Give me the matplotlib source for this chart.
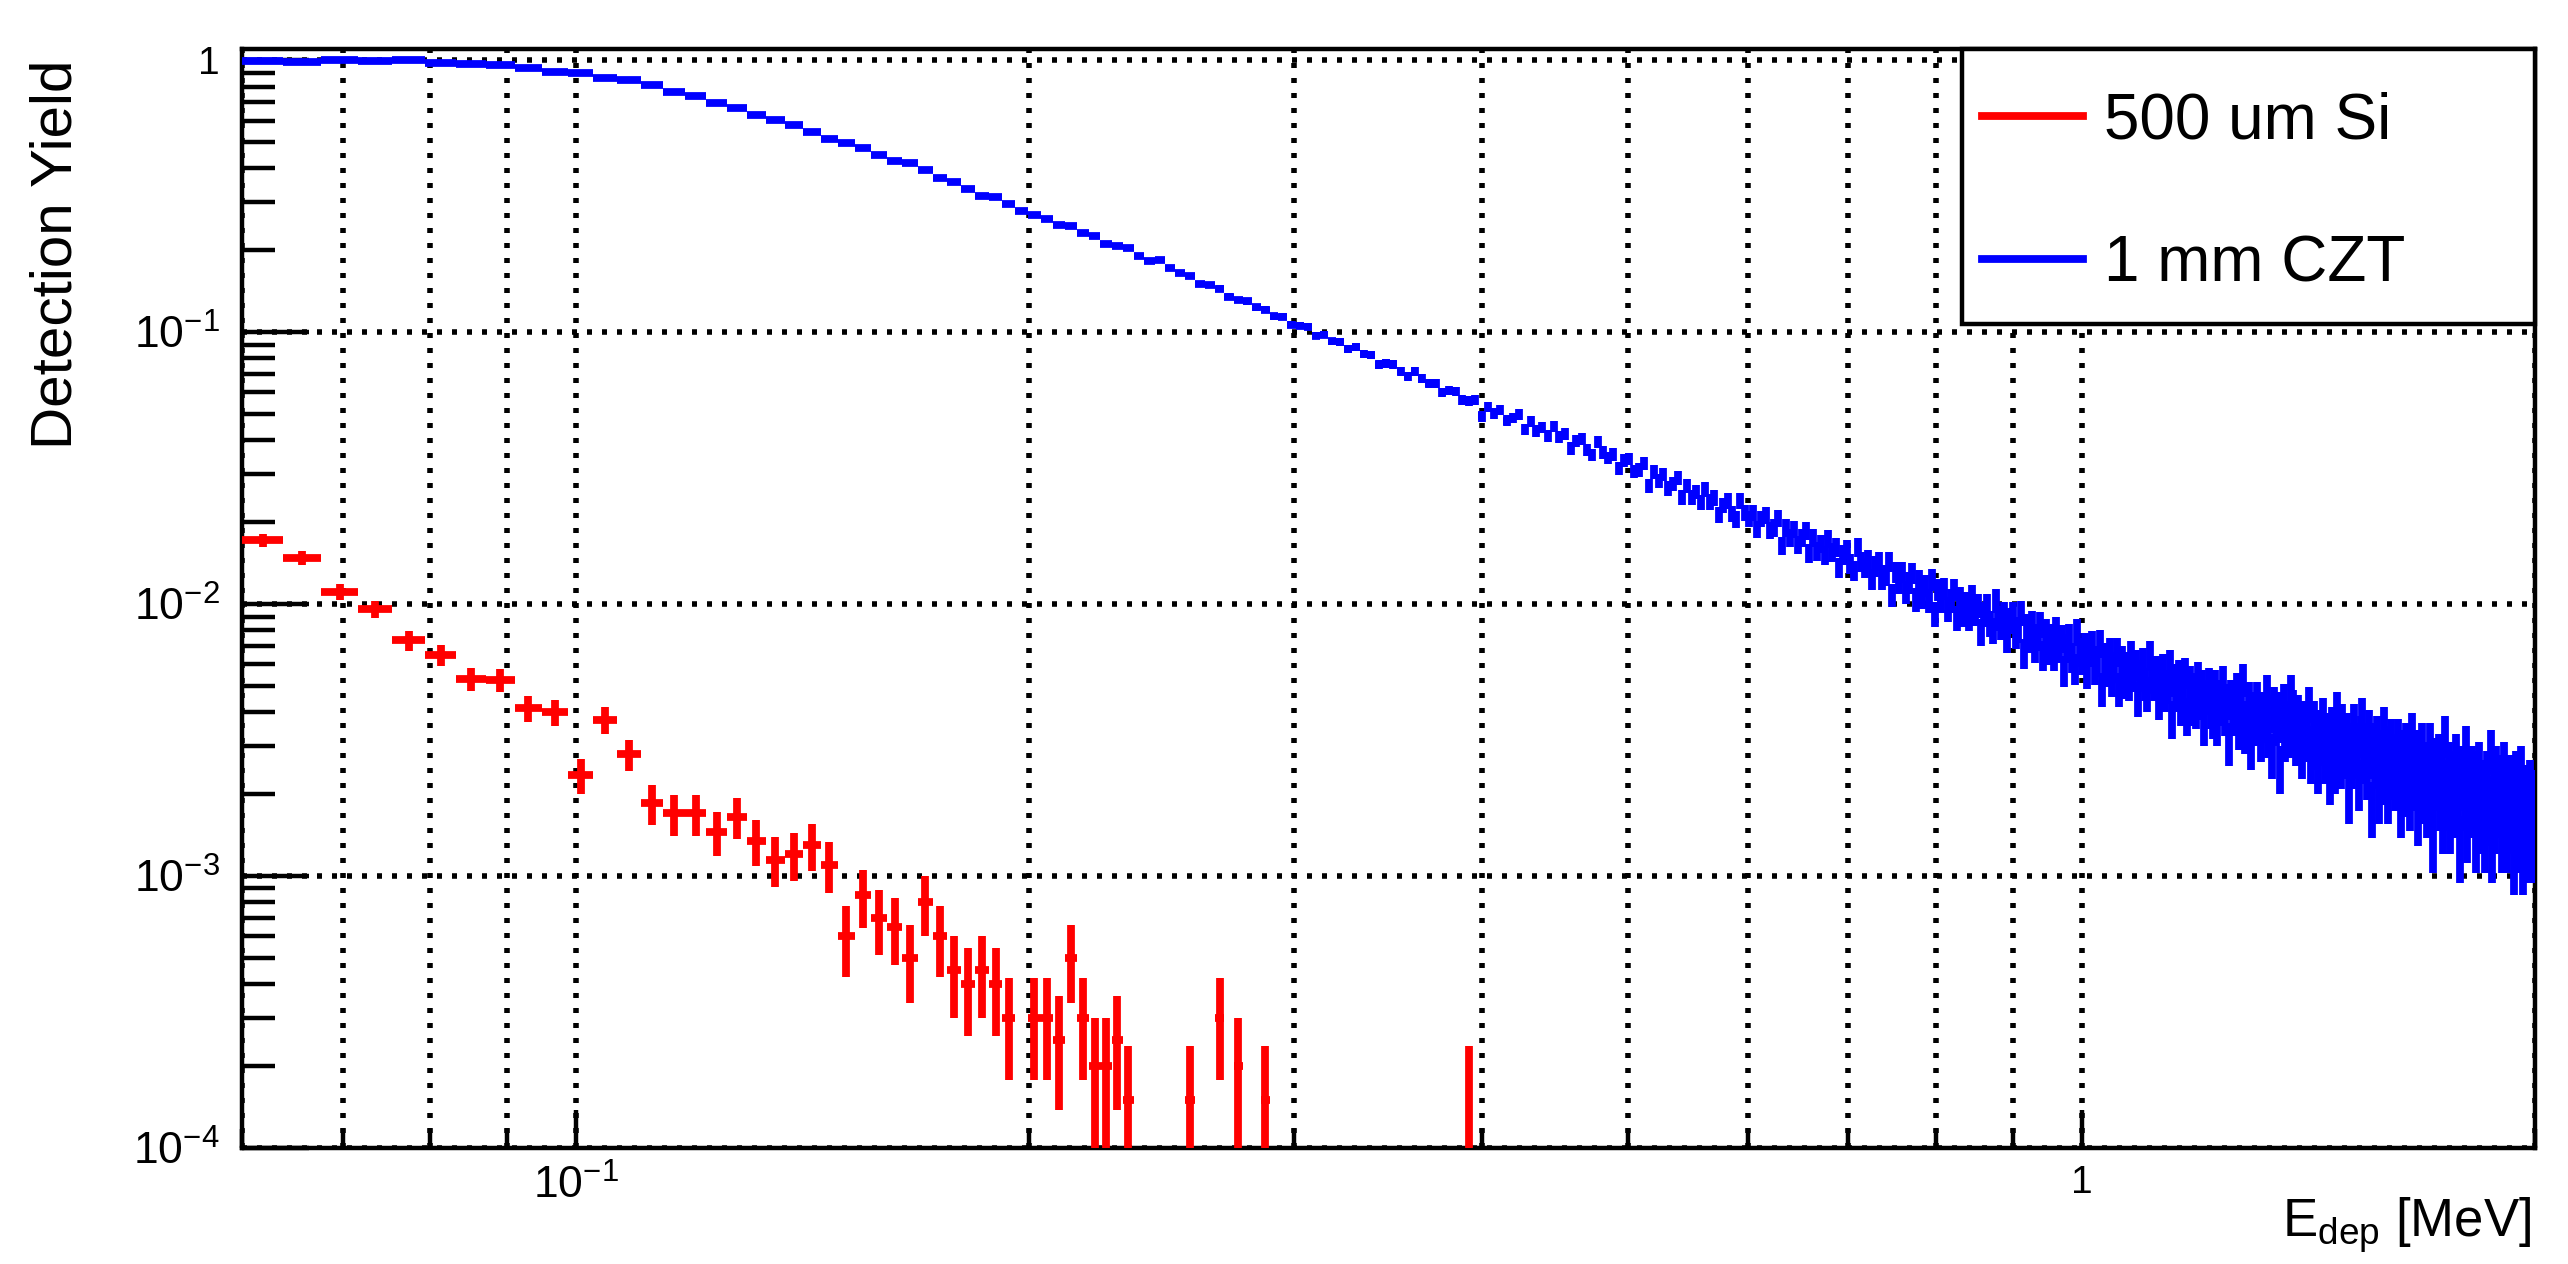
import numpy as np
import matplotlib
matplotlib.use("Agg")
import matplotlib.pyplot as plt
from matplotlib.lines import Line2D
from matplotlib.patches import Rectangle
from matplotlib.ticker import FixedLocator, FixedFormatter, LogLocator, NullFormatter

plt.rcParams['font.family'] = ['Liberation Sans', 'DejaVu Sans']
plt.rcParams['mathtext.fontset'] = 'custom'
plt.rcParams['mathtext.rm'] = 'Liberation Sans'
plt.rcParams['mathtext.it'] = 'Liberation Sans:italic'
plt.rcParams['mathtext.default'] = 'regular'

# histogram definition: 500 equal bins from 0.06 to 2 MeV
E_MIN, E_MAX, N_BINS = 0.06, 2.0, 500
SI_PRIMARIES = 20000    # primaries per bin, Si run
CZT_PRIMARIES = 10000   # primaries per bin, CZT run

# detected counts per bin, 500 um Si (bins 0..85, rest empty)
si_counts = [
    343, 296, 222, 192, 147, 130, 106, 105, 83, 80,
    47, 75, 56, 37, 34, 34, 29, 33, 27, 23,
    24, 26, 22, 12, 17, 14, 13, 10, 16, 12,
    9, 8, 9, 8, 6, 0, 6, 6, 5, 10,
    6, 4, 4, 5, 3, 0, 0, 0, 0, 0,
    3, 0, 0, 6, 0, 4, 0, 0, 3, 0,
    0, 0, 0, 0, 0, 0, 0, 0, 0, 0,
    0, 0, 0, 0, 0, 0, 0, 0, 0, 0,
    0, 0, 0, 0, 0, 3,
]

# detected counts per bin, 1 mm CZT (all 500 bins)
czt_counts = [
    9970, 9860, 9990, 9970, 9995, 9800, 9720, 9610, 9320, 9080,
    8960, 8590, 8470, 8090, 7630, 7370, 6930, 6660, 6280, 6040,
    5770, 5450, 5140, 4940, 4750, 4470, 4250, 4180, 3930, 3680,
    3570, 3370, 3170, 3130, 2950, 2790, 2690, 2604, 2473, 2454,
    2319, 2259, 2113, 2082, 2031, 1913, 1828, 1838, 1728, 1649,
    1614, 1503, 1487, 1446, 1351, 1312, 1297, 1234, 1208, 1143,
    1138, 1065, 1055, 1048, 971, 980, 924, 918, 868, 885,
    831, 823, 760, 767, 761, 717, 690, 718, 675, 648,
    649, 601, 611, 606, 564, 557, 565, 491, 532, 502,
    519, 473, 484, 499, 440, 470, 434, 448, 416, 450,
    413, 422, 374, 397, 405, 370, 354, 396, 361, 345,
    356, 316, 337, 342, 308, 312, 330, 273, 306, 285,
    300, 267, 277, 291, 247, 273, 247, 259, 237, 264,
    238, 246, 213, 231, 240, 215, 205, 240, 216, 206,
    217, 189, 206, 212, 187, 191, 207, 164, 191, 176,
    189, 165, 175, 186, 154, 176, 156, 167, 151, 174,
    155, 162, 136, 152, 159, 141, 133, 162, 143, 136,
    146, 124, 138, 144, 124, 128, 143, 108, 131, 120,
    131, 111, 120, 130, 104, 122, 106, 117, 103, 123,
    92, 113, 103, 114, 96, 103, 113, 89, 105, 92,
    101, 89, 107, 93, 99, 79, 92, 99, 85, 80,
    103, 89, 83, 92, 75, 87, 92, 77, 81, 93,
    66, 83, 75, 85, 69, 76, 84, 65, 79, 68,
    76, 65, 81, 69, 75, 57, 69, 76, 64, 58,
    79, 67, 63, 70, 56, 67, 71, 58, 62, 72,
    49, 64, 57, 67, 53, 59, 67, 49, 62, 52,
    59, 51, 65, 55, 60, 45, 55, 61, 51, 47,
    65, 54, 51, 57, 44, 55, 58, 47, 50, 60,
    38, 53, 47, 55, 42, 49, 56, 39, 52, 42,
    49, 41, 54, 44, 50, 36, 46, 51, 41, 38,
    50, 36, 42, 46, 52, 39, 44, 31, 46, 41,
    39, 49, 35, 44, 53, 34, 38, 45, 30, 41,
    36, 45, 40, 32, 41, 37, 48, 33, 40, 28,
    43, 36, 41, 25, 37, 44, 32, 38, 33, 48,
    42, 34, 31, 40, 37, 28, 38, 32, 35, 43,
    27, 30, 38, 33, 25, 35, 31, 39, 27, 34,
    33, 23, 36, 30, 25, 41, 33, 26, 37, 28,
    30, 34, 20, 31, 26, 37, 31, 28, 22, 33,
    39, 27, 31, 24, 35, 28, 18, 31, 26, 33,
    20, 29, 23, 36, 26, 30, 20, 27, 32, 24,
    22, 28, 32, 24, 18, 29, 25, 31, 21, 27,
    19, 34, 22, 25, 29, 17, 27, 23, 31, 20,
    26, 18, 24, 31, 21, 14, 27, 25, 22, 28,
    19, 25, 16, 33, 19, 22, 26, 16, 24, 20,
    18, 28, 21, 24, 13, 25, 22, 19, 30, 15,
    23, 18, 25, 21, 24, 14, 19, 26, 22, 16,
    19, 22, 14, 24, 19, 17, 29, 13, 21, 16,
    25, 18, 20, 23, 14, 17, 26, 19, 14, 21,
    23, 16, 19, 12, 21, 24, 14, 18, 17, 25,
    12, 20, 17, 21, 13, 18, 22, 15, 13, 20,
]

series = [
    ("500 um Si", si_counts, SI_PRIMARIES, "#ff0000"),
    ("1 mm CZT", czt_counts, CZT_PRIMARIES, "#0000ff"),
]

y_major = [1e-4, 1e-3, 1e-2, 1e-1, 1]
y_labels = ["$10^{-4}$", "$10^{-3}$", "$10^{-2}$", "$10^{-1}$", "1"]
x_major = [0.1, 1]
x_labels = ["$10^{-1}$", "1"]

edges = np.linspace(E_MIN, E_MAX, N_BINS + 1)
centers = 0.5 * (edges[:-1] + edges[1:])
half_w = 0.5 * (edges[1] - edges[0])

LW = 2.8

fig = plt.figure(figsize=(12.84, 6.32), dpi=200)
ax = fig.add_axes([0.0942, 0.0918, 0.8929, 0.8695])
ax.set_xscale("log")
ax.set_yscale("log")

for name, counts, n_prim, color in series:
    n = np.asarray(counts, dtype=float)
    x = centers[:len(n)]
    keep = n > 0
    y = n[keep] / n_prim
    err = np.sqrt(n[keep]) / n_prim
    ax.errorbar(x[keep], y, xerr=half_w, yerr=err, fmt="none",
                ecolor=color, elinewidth=LW, capsize=0, zorder=3)

ax.set_xlim(E_MIN, E_MAX)
ax.set_ylim(1e-4, 1.1)

ax.xaxis.set_major_locator(FixedLocator(x_major))
ax.xaxis.set_major_formatter(FixedFormatter(x_labels))
ax.xaxis.set_minor_locator(LogLocator(base=10, subs=np.arange(2, 10)))
ax.xaxis.set_minor_formatter(NullFormatter())
ax.yaxis.set_major_locator(FixedLocator(y_major))
ax.yaxis.set_major_formatter(FixedFormatter(y_labels))
ax.yaxis.set_minor_locator(LogLocator(base=10, subs=np.arange(2, 10)))
ax.yaxis.set_minor_formatter(NullFormatter())

grid_kw = dict(color="black", linewidth=2.0, linestyle=(0, (0.9, 1.8)))
ax.set_axisbelow(True)
ax.xaxis.grid(True, which="both", **grid_kw)
ax.yaxis.grid(True, which="major", **grid_kw)

ax.tick_params(axis="y", which="major", direction="in", length=24, width=1.6,
               labelsize=16, pad=8, right=False)
ax.tick_params(axis="y", which="minor", direction="in", length=12, width=1.6, right=False)
ax.tick_params(axis="x", which="major", direction="in", length=13.7, width=1.6,
               labelsize=16, pad=6, top=False)
ax.tick_params(axis="x", which="minor", direction="in", length=6.8, width=1.6, top=False)
for lbl in ax.get_xticklabels() + ax.get_yticklabels():
    if lbl.get_text() == "1":
        lbl.set_fontsize(14)

for sp in ax.spines.values():
    sp.set_linewidth(1.6)

ax.set_xlabel(r"E$_{dep}$ [MeV]", fontsize=19, ha="right")
ax.xaxis.set_label_coords(0.9983, -0.043)
ax.set_ylabel("Detection Yield", fontsize=21, loc="top")
ax.yaxis.set_label_coords(-0.0693, 0.99)

# legend box
ax.add_patch(Rectangle((0.75, 0.75), 0.25, 0.25, transform=ax.transAxes,
                       facecolor="white", edgecolor="black", linewidth=1.6,
                       zorder=4.5, clip_on=False))
handles = [Line2D([], [], color=s[3], linewidth=LW) for s in series]
labels = [s[0] for s in series]
ax.legend(handles, labels, loc="center left", bbox_to_anchor=(0.7588, 0.869),
          frameon=False, fontsize=23, handlelength=1.58, handletextpad=0.34,
          labelspacing=1.31, borderpad=0, borderaxespad=0)

fig.savefig("out.png", dpi=200)
